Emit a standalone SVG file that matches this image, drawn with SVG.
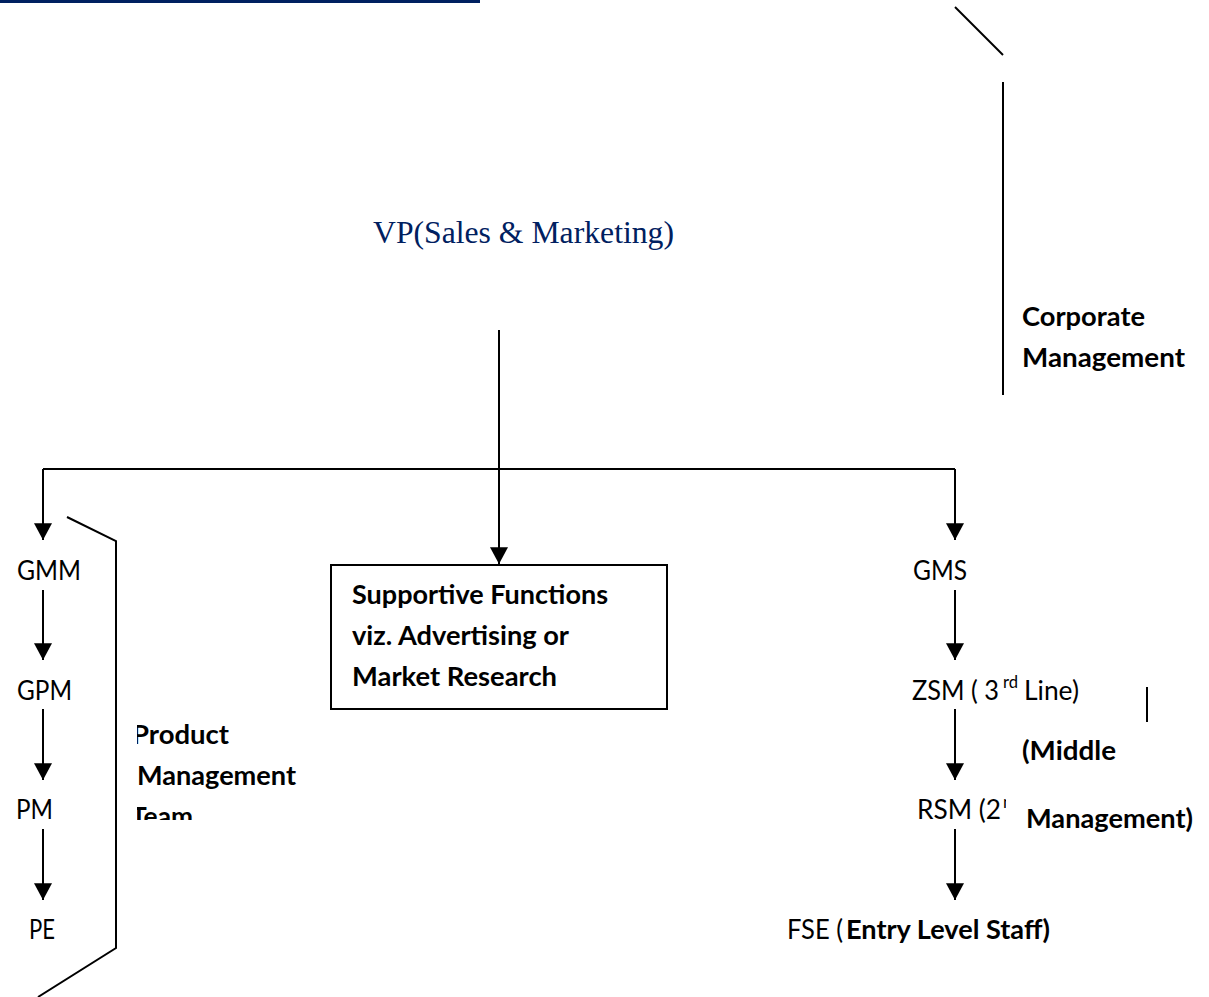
<svg xmlns="http://www.w3.org/2000/svg" width="1209" height="997" viewBox="0 0 1209 997">
<style>
.ln{stroke:#000;stroke-width:2;fill:none}
.ar{stroke:#000;stroke-width:2;fill:none;marker-end:url(#ah)}
.t{font-family:Lato,"Liberation Sans",sans-serif;font-size:27px;fill:#000}
.b{font-family:Lato,"Liberation Sans",sans-serif;font-size:26.5px;font-weight:bold;fill:#000}
.sup{font-family:Lato,"Liberation Sans",sans-serif;font-size:17px;fill:#000}
</style>
<defs>
<marker id="ah" markerUnits="userSpaceOnUse" markerWidth="18" markerHeight="18" viewBox="0 0 16 16" refX="15" refY="8" orient="auto">
<path d="M0,0 L15,8 L0,16 Z" fill="#000"/>
</marker>
<clipPath id="pclip"><rect x="137" y="700" width="200" height="120"/></clipPath>
<clipPath id="rclip"><rect x="900" y="790" width="106" height="45"/></clipPath>
</defs>
<rect x="0" y="0" width="480" height="3" fill="#002060"/>

<g id="connectors">
<line class="ln" x1="955" y1="7" x2="1003" y2="55"/>
<line class="ln" x1="1003" y1="82" x2="1003" y2="395"/>
<line class="ar" x1="499" y1="330" x2="499" y2="564"/>
<polyline class="ar" points="43,469 43,540"/>
<line class="ln" x1="43" y1="469" x2="955" y2="469"/>
<line class="ar" x1="955" y1="469" x2="955" y2="540"/>
<line class="ar" x1="43" y1="590" x2="43" y2="660"/>
<line class="ar" x1="43" y1="709" x2="43" y2="780"/>
<line class="ar" x1="43" y1="829" x2="43" y2="900"/>
<line class="ar" x1="955" y1="590" x2="955" y2="660"/>
<line class="ar" x1="955" y1="709" x2="955" y2="780"/>
<line class="ar" x1="955" y1="829" x2="955" y2="900"/>
<polyline class="ln" points="67,517 116,541 116,948 38,997"/>
<line class="ln" x1="1147" y1="687" x2="1147" y2="722"/>
</g>

<g id="vp">
<text x="373" y="243" font-family="'Liberation Serif',serif" font-size="31.5" fill="#002060" textLength="301" lengthAdjust="spacingAndGlyphs">VP(Sales &amp; Marketing)</text>
</g>

<g id="corporate">
<text class="b" x="1022" y="326" textLength="123" lengthAdjust="spacingAndGlyphs">Corporate</text>
<text class="b" x="1022" y="367" textLength="163" lengthAdjust="spacingAndGlyphs">Management</text>
</g>

<g id="support">
<rect x="331" y="565" width="336" height="144" fill="#fff" stroke="#000" stroke-width="2"/>
<text class="b" x="352" y="604" textLength="256" lengthAdjust="spacingAndGlyphs">Supportive Functions</text>
<text class="b" x="352" y="645" textLength="217" lengthAdjust="spacingAndGlyphs">viz. Advertising or</text>
<text class="b" x="352" y="686" textLength="205" lengthAdjust="spacingAndGlyphs">Market Research</text>
</g>

<g id="gmm"><text class="t" x="17" y="580" textLength="64" lengthAdjust="spacingAndGlyphs">GMM</text></g>
<g id="gpm"><text class="t" x="17" y="700" textLength="55" lengthAdjust="spacingAndGlyphs">GPM</text></g>
<g id="pm"><text class="t" x="16" y="819" textLength="37" lengthAdjust="spacingAndGlyphs">PM</text></g>
<g id="pe"><text class="t" x="29" y="939" textLength="26" lengthAdjust="spacingAndGlyphs">PE</text></g>

<g id="product-team" clip-path="url(#pclip)">
<text class="b" x="132" y="744" textLength="97" lengthAdjust="spacingAndGlyphs">Product</text>
<text class="b" x="137" y="785" textLength="159" lengthAdjust="spacingAndGlyphs">Management</text>
<text class="b" x="131" y="826" textLength="62" lengthAdjust="spacingAndGlyphs">Team</text>
</g>

<g id="gms"><text class="t" x="913" y="580" textLength="54" lengthAdjust="spacingAndGlyphs">GMS</text></g>

<g id="zsm">
<text class="t" x="912" y="700" textLength="87" lengthAdjust="spacingAndGlyphs">ZSM ( 3</text>
<text class="sup" x="1003" y="688" textLength="15" lengthAdjust="spacingAndGlyphs">rd</text>
<text class="t" x="1024" y="700" textLength="55" lengthAdjust="spacingAndGlyphs">Line)</text>
</g>

<g id="rsm" clip-path="url(#rclip)">
<text class="t" x="917" y="819" textLength="84" lengthAdjust="spacingAndGlyphs">RSM (2</text>
<text class="sup" x="1003" y="808">nd</text>
</g>

<g id="middle">
<text class="b" x="1022" y="760" textLength="94" lengthAdjust="spacingAndGlyphs">(Middle</text>
<text class="b" x="1026" y="828" textLength="167" lengthAdjust="spacingAndGlyphs">Management)</text>
</g>

<g id="fse">
<text class="t" x="787" y="939" textLength="56" lengthAdjust="spacingAndGlyphs">FSE (</text>
<text class="b" x="846" y="939" textLength="204" lengthAdjust="spacingAndGlyphs">Entry Level Staff)</text>
</g>
</svg>
